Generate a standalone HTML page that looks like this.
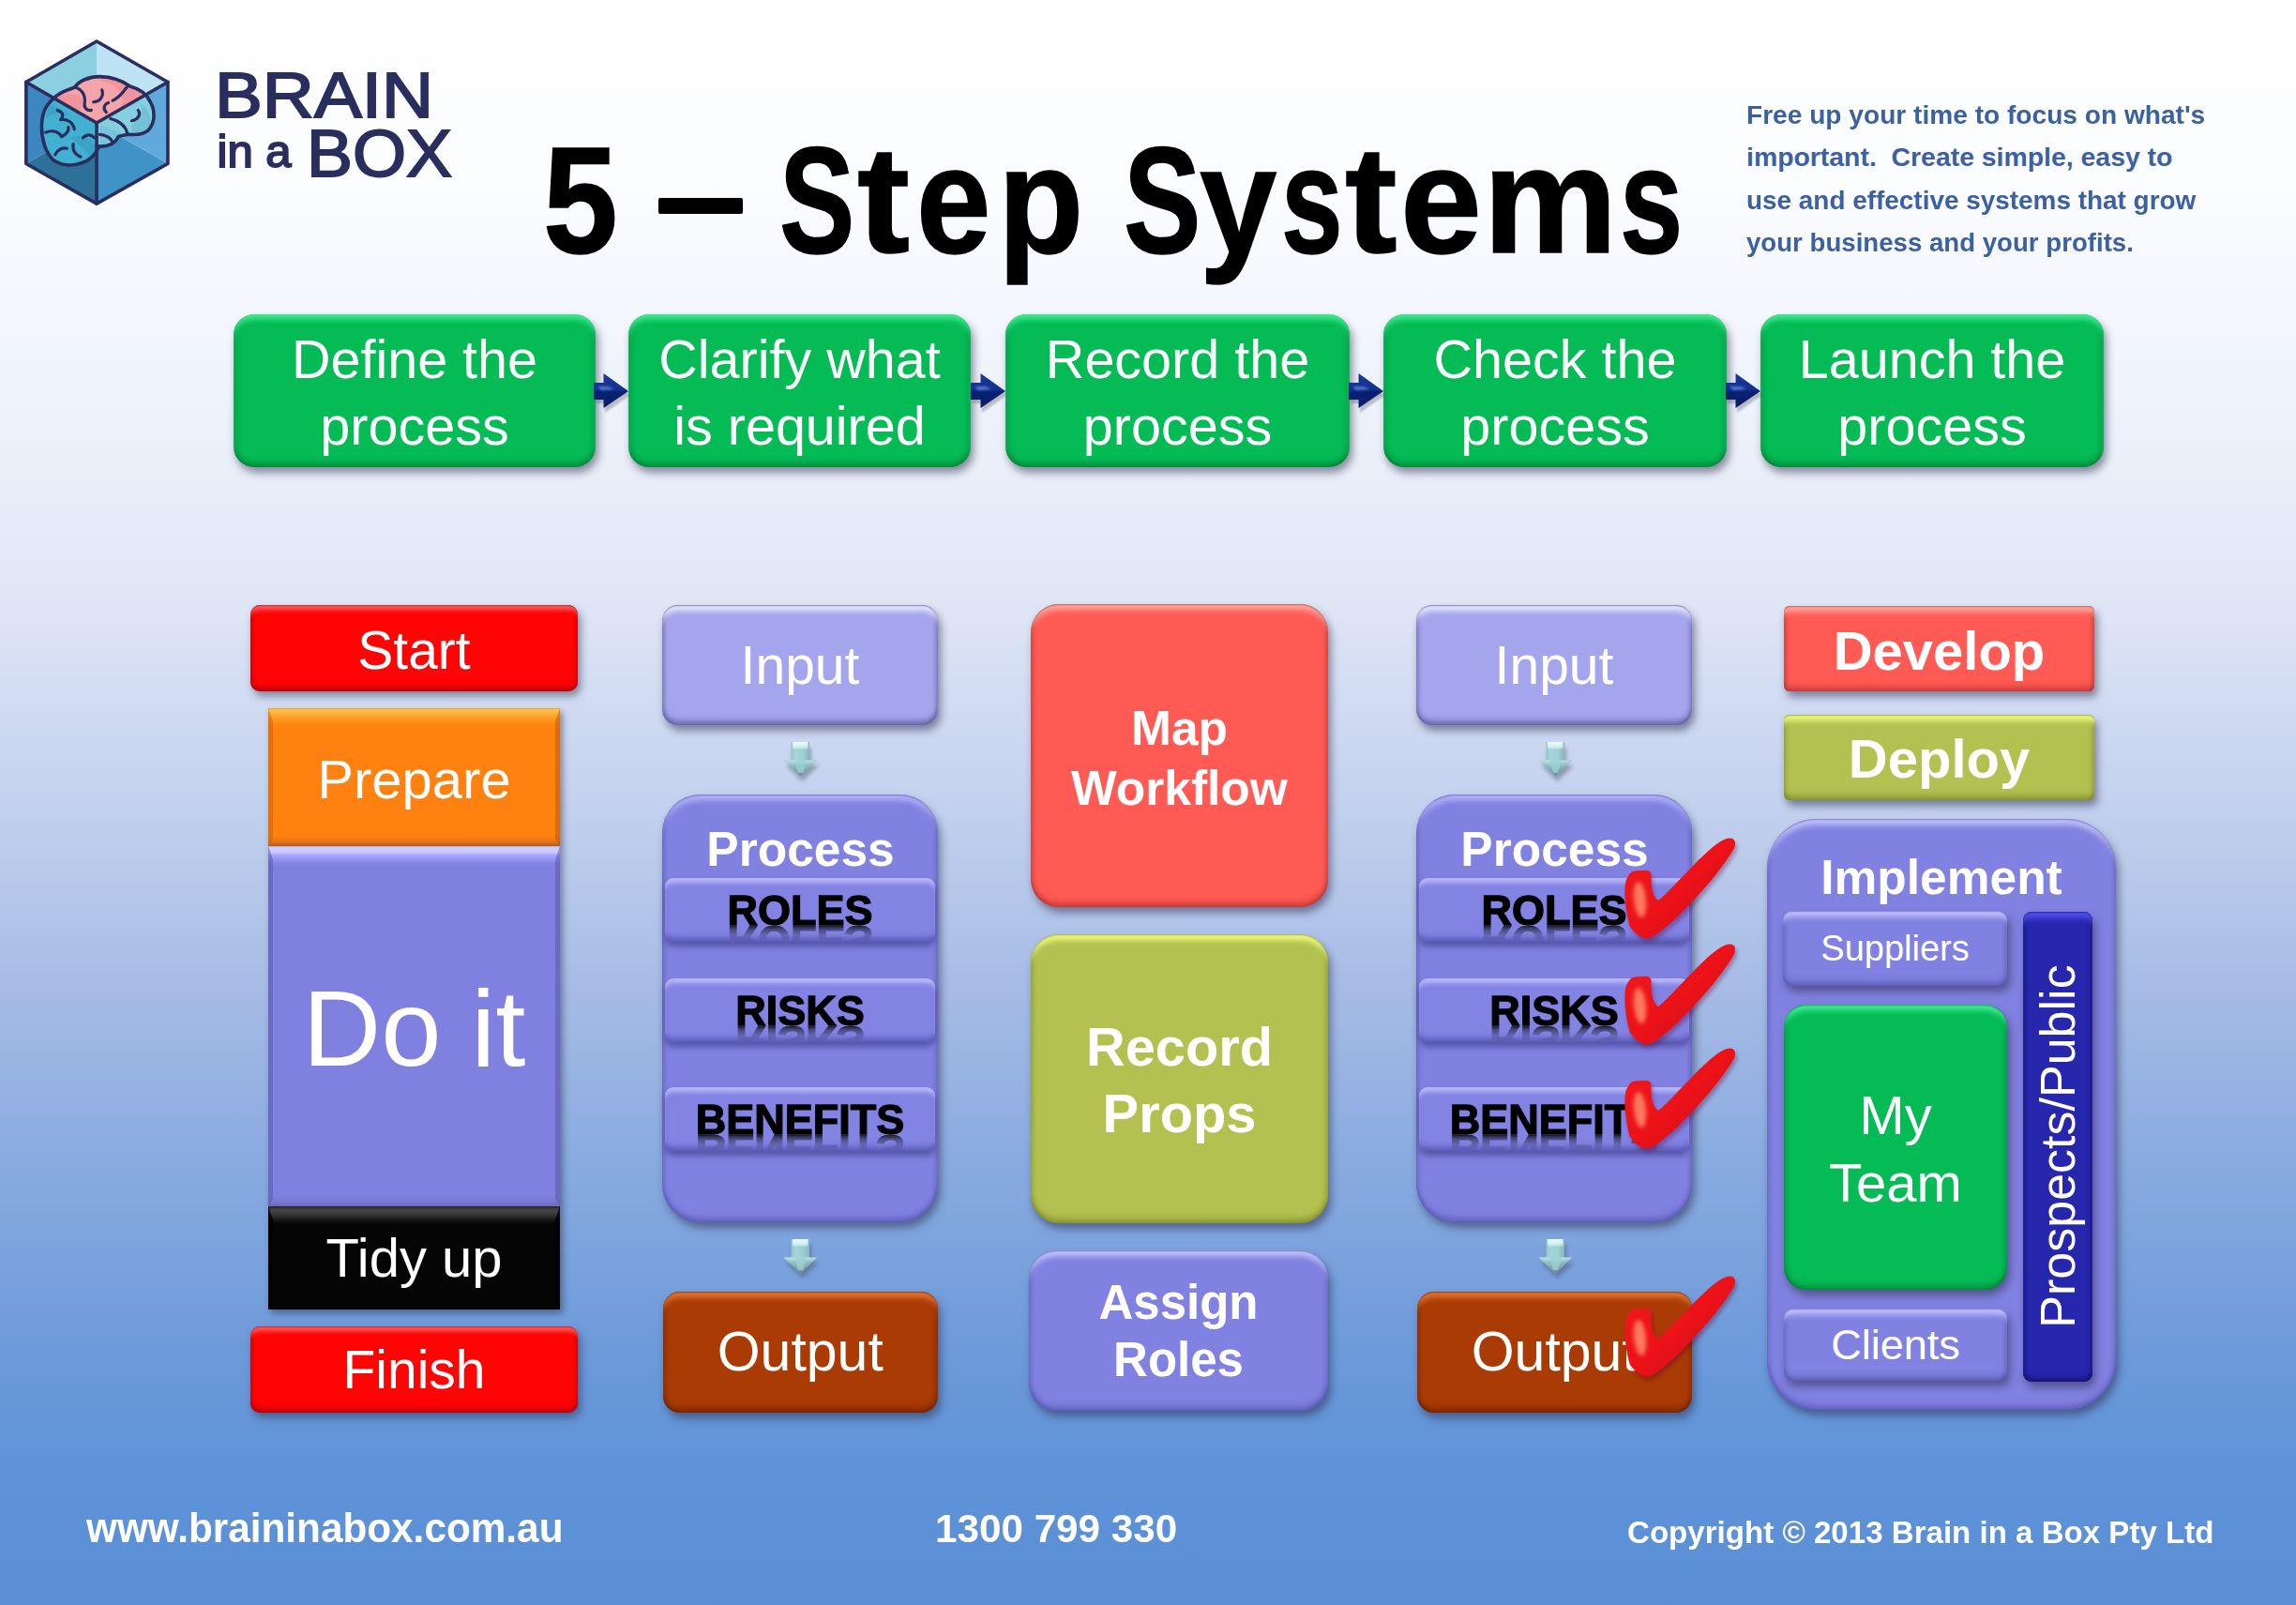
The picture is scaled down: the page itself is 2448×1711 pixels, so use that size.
<!DOCTYPE html>
<html>
<head>
<meta charset="utf-8">
<title>5 - Step Systems</title>
<style>
*{box-sizing:border-box;margin:0;padding:0}
html,body{width:2448px;height:1711px;overflow:hidden}
body{font-family:"Liberation Sans",sans-serif;position:relative;
background:linear-gradient(180deg,#ffffff 0px,#fbfcff 200px,#eff3fb 420px,#dfe6f6 640px,#c3d1ee 860px,#a5bbe5 1060px,#86a9df 1260px,#6d9ada 1440px,#5f93d8 1560px,#5a8fd6 1711px);}
.a{position:absolute}
.box{position:absolute;display:flex;align-items:center;justify-content:center;text-align:center;color:#fff;white-space:nowrap}
.sh{box-shadow:3px 5px 8px rgba(40,40,70,.45)}
/* green step boxes */
.g{background:#04bb55;border-radius:22px;font-size:57.5px;line-height:70.6px;
box-shadow:inset 0 7px 6px -2px rgba(90,255,170,.75),inset 0 -7px 7px -3px rgba(0,80,30,.45),inset 6px 0 6px -4px rgba(0,90,40,.35),inset -6px 0 6px -4px rgba(0,90,40,.35),3px 6px 9px rgba(40,40,70,.5)}

.g>div{padding-top:5px}
/* red pill (start/finish) */
.red{background:#fe0404;border-radius:10px;font-size:57px;
box-shadow:inset 0 2px 1.5px -1px rgba(170,0,30,.6),inset 0 9px 5px -4px rgba(255,110,110,.85),inset 0 -7px 6px -3px rgba(130,0,20,.55),inset 4px 0 4px -3px rgba(140,0,20,.5),inset -4px 0 4px -3px rgba(140,0,20,.5),3px 5px 8px rgba(40,40,70,.5)}
/* sharp bevel boxes in column 1 */
.sq{font-size:58px;box-shadow:3px 4px 7px rgba(30,30,60,.45)}
.sq:before{content:"";position:absolute;left:0;top:0;right:0;bottom:0;border-style:solid;border-width:14px 5px 8px 5px;border-color:transparent;pointer-events:none}
.or{background:linear-gradient(to bottom,#f0a040 0,#ffc244 2px,#ffb23a 6px,#ff9a26 11px,#ff8613 17px,#ff8110 22px,#ff8110 calc(100% - 13px),#f67b10 calc(100% - 8px),#e07218 calc(100% - 4px),#b06030 100%)}
.or:before{border-left-color:rgba(200,95,0,.5);border-right-color:rgba(185,85,0,.5)}
.pu{background:linear-gradient(to bottom,#b8b4f4 0,#d2cdff 2px,#cfcbff 6px,#a6a4fc 10px,#9695f2 14px,#8585e4 18px,#8080e0 22px,#8080e0 calc(100% - 12px),#7a7ad6 calc(100% - 6px),#6e6ec4 100%)}
.pu:before{border-left-color:rgba(85,90,170,.55);border-right-color:rgba(85,85,170,.5)}
.bk{background:linear-gradient(to bottom,#1a1a22 0,#3c3a3a 2px,#474545 5px,#2e3030 10px,#141414 15px,#050505 19px,#050505 100%)}
.bk:before{border-left-color:rgba(0,0,0,.8);border-right-color:rgba(0,0,0,.8)}
/* rounded bevel generic */
.rb{box-shadow:inset 0 2px 1.5px -1px var(--lo),inset 0 10px 6px -4px var(--hi),inset 0 -7px 7px -3px var(--lo),inset 5px 0 4px -3px var(--sd),inset -5px 0 4px -3px var(--sd),3px 6px 9px rgba(40,40,70,.5)}
.inp{background:#a4a5ec;border-radius:17px;font-size:57px;--hi:rgba(236,236,255,.97);--lo:rgba(55,55,120,.6);--sd:rgba(65,65,130,.45)}
.prc{background:#8181e1;border-radius:41px;--hi:rgba(185,185,255,.9);--lo:rgba(60,60,150,.5);--sd:rgba(70,70,160,.45)}
.bar{position:absolute;background:#8383e3;border-radius:9px;display:flex;align-items:center;justify-content:center;color:#000;font-weight:bold;font-size:45px;
box-shadow:inset 0 7px 5px -2px rgba(190,190,255,.9),inset 0 -7px 6px -3px rgba(60,60,150,.6),0 5px 6px rgba(50,50,120,.55)}
.out{background:#aa3b04;border-radius:18px;font-size:59px;--hi:rgba(240,130,60,.85);--lo:rgba(80,20,0,.55);--sd:rgba(90,25,0,.4)}
.cor{background:#ff5a54;--hi:rgba(255,178,168,.92);--lo:rgba(140,30,30,.5);--sd:rgba(150,40,40,.5)}
.olv{background:#b2c150;--hi:rgba(245,255,130,.95);--lo:rgba(90,100,20,.5);--sd:rgba(100,110,30,.4)}
.per{background:#8181e1;--hi:rgba(200,200,255,.95);--lo:rgba(60,60,150,.5);--sd:rgba(70,70,160,.45)}
.grn{background:#04bb55;--hi:rgba(90,255,170,.75);--lo:rgba(0,80,30,.45);--sd:rgba(0,90,40,.35)}
.nav{background:#2727ae;--hi:rgba(90,90,255,.9);--lo:rgba(10,10,80,.6);--sd:rgba(15,15,90,.5)}
.rf{display:inline-block;line-height:.693em;-webkit-text-stroke:1.3px #000;margin-top:2px;
-webkit-box-reflect:below -1px linear-gradient(to bottom,transparent 0%,transparent 45%,rgba(0,0,0,.18) 68%,rgba(0,0,0,.45) 88%,rgba(0,0,0,.8) 100%)}
.tl{top:133px;font-size:161px;color:#000;transform-origin:0 0;-webkit-text-stroke:1.5px #000}
.t.tg{left:1862px;font-size:28.4px;line-height:45.3px;color:#3c61a1;white-space:pre;transform-origin:0 0}
.b{font-weight:bold}
.t{position:absolute;white-space:nowrap;line-height:1}
</style>
</head>
<body>
<!-- shared svg defs -->
<svg width="0" height="0" style="position:absolute">
<defs>
<linearGradient id="ra" x1="0" y1="0" x2="0" y2="1"><stop offset="0" stop-color="#1b3a9a"/><stop offset=".45" stop-color="#143092"/><stop offset=".55" stop-color="#0a2070"/><stop offset="1" stop-color="#0a1c66"/></linearGradient>
<linearGradient id="da" x1="0" y1="0" x2="1" y2="0"><stop offset="0" stop-color="#7ba6b0"/><stop offset=".35" stop-color="#a4d5da"/><stop offset=".6" stop-color="#9dced4"/><stop offset="1" stop-color="#6a929e"/></linearGradient>
<linearGradient id="dah" x1="0" y1="0" x2="0" y2="1"><stop offset="0" stop-color="#f2ffff" stop-opacity=".95"/><stop offset=".35" stop-color="#e8ffff" stop-opacity=".7"/><stop offset=".6" stop-color="#fff" stop-opacity="0"/></linearGradient>
<linearGradient id="dad" x1="0" y1="0" x2="0" y2="1"><stop offset="0" stop-color="#c6ecee"/><stop offset=".3" stop-color="#93bec4"/><stop offset="1" stop-color="#587e88"/></linearGradient>
<linearGradient id="ck" x1="0" y1="0" x2="1" y2="1"><stop offset="0" stop-color="#f01a1a"/><stop offset=".5" stop-color="#ec1218"/><stop offset="1" stop-color="#c80e1c"/></linearGradient>
<filter id="bl" x="-50%" y="-50%" width="200%" height="200%"><feGaussianBlur stdDeviation="2.2"/></filter>
<filter id="bl1" x="-50%" y="-50%" width="200%" height="200%"><feGaussianBlur stdDeviation="1.2"/></filter>
<g id="rarrow">
<path d="M1 13 L11 13 L11 2 L38 20 L11 39 L11 29 L1 29 Z" fill="#556" opacity=".35" filter="url(#bl1)" transform="translate(1,3)"/>
<path d="M0 10 L10.5 10 L10.5 0 L37 19 L10.5 37 L10.5 28 L0 28 Z" fill="url(#ra)"/>
<path d="M4 14 L16 14 L22 17 L8 18 Z" fill="#5a8ad8" opacity=".8" filter="url(#bl1)"/>
</g>
<g id="darrow">
<path d="M8 2 L28 2 L28 21 L36 21 L18.5 38 L1 21 L8 21 Z" fill="#445" opacity=".4" filter="url(#bl)" transform="translate(2,4)"/>
<path d="M8.5 0 L28 0 L28 19.5 L36 19.5 L18.5 36.5 L0.5 19.5 L8.5 19.5 Z" fill="url(#da)"/>
<path d="M0.5 19.5 L36 19.5 L18.5 36.5 Z" fill="url(#dad)" opacity=".85"/>
<path d="M12 19 L25 19 L21 33 L16 33 Z" fill="#9ccfd4" opacity=".8"/>
<rect x="10" y="0" width="16.5" height="14" fill="url(#dah)"/>
</g>
<g id="check">
<path d="M6 44 C8 40 11 38.5 14 38.3 L25 37.8 Q30.5 38 30.5 43 C30 55 32 66 38 70 C55 56 80 25 100 10 C108 4 114 2 118 4.5 C121 7 120 11 119 14 C108 34 84 62 59 87 C48 97 36 108 28 110 C20 112 14 105 8 98 C4 85 2 68 2.5 59 C2.5 52 3.5 47 6 44 Z" fill="#503" opacity=".35" filter="url(#bl)" transform="translate(2,4)"/>
<path d="M6 44 C8 40 11 38.5 14 38.3 L25 37.8 Q30.5 38 30.5 43 C30 55 32 66 38 70 C55 56 80 25 100 10 C108 4 114 2 118 4.5 C121 7 120 11 119 14 C108 34 84 62 59 87 C48 97 36 108 28 110 C20 112 14 105 8 98 C4 85 2 68 2.5 59 C2.5 52 3.5 47 6 44 Z" fill="url(#ck)"/>
<ellipse cx="18.5" cy="69" rx="6.5" ry="19" fill="#ff8a6a" opacity=".85" filter="url(#bl)" transform="rotate(-6 18.5 69)"/>
</g>
</defs>
</svg>


<!-- top step boxes -->
<div class="box g" style="left:249px;top:335px;width:386px;height:163px"><div>Define the<br>process</div></div>
<div class="box g" style="left:670px;top:335px;width:365px;height:163px"><div>Clarify what<br>is required</div></div>
<div class="box g" style="left:1072px;top:335px;width:367px;height:163px"><div>Record the<br>process</div></div>
<div class="box g" style="left:1475px;top:335px;width:366px;height:163px"><div>Check the<br>process</div></div>
<div class="box g" style="left:1877px;top:335px;width:366px;height:163px"><div>Launch the<br>process</div></div>


<!-- column 1 -->
<div class="box red" style="left:267px;top:645px;width:349px;height:92px"><div style="padding-top:3px">Start</div></div>
<div class="box sq or" style="left:286px;top:755px;width:311px;height:146.5px"><div style="padding-top:4px">Prepare</div></div>
<div class="box sq pu" style="left:286px;top:901.5px;width:311px;height:384px;font-size:115.5px"><div style="padding-top:3px">Do it</div></div>
<div class="box sq bk" style="left:286px;top:1285.5px;width:311px;height:110.5px"><div>Tidy up</div></div>
<div class="box red" style="left:267px;top:1414px;width:349px;height:92px"><div style="padding-top:0px">Finish</div></div>

<!-- column 2 -->
<div class="box rb inp" style="left:706px;top:645px;width:294px;height:128px"><div>Input</div></div>
<div class="box rb prc" style="left:706px;top:847px;width:294px;height:456px"></div>
<div class="t b" style="left:707px;width:293px;top:880px;text-align:center;color:#fff;font-size:51.5px">Process</div>
<div class="bar" style="left:709px;top:936px;width:288px;height:68px"><span class="rf">ROLES</span></div>
<div class="bar" style="left:709px;top:1043px;width:288px;height:68px"><span class="rf">RISKS</span></div>
<div class="bar" style="left:709px;top:1159px;width:288px;height:68px"><span class="rf">BENEFITS</span></div>
<div class="box rb out" style="left:706.5px;top:1377px;width:293.5px;height:128.5px"><div style="padding-bottom:0px">Output</div></div>

<!-- column 3 -->
<div class="box rb cor b" style="left:1099px;top:644px;width:317px;height:323px;border-radius:30px;font-size:51.5px;line-height:63.5px"><div style="padding-top:6px">Map<br>Workflow</div></div>
<div class="box rb olv b" style="left:1099px;top:996px;width:317px;height:308px;border-radius:30px;font-size:57.8px;line-height:71px"><div style="padding-top:3px">Record<br>Props</div></div>
<div class="box rb per b" style="left:1097px;top:1333px;width:319px;height:171px;border-radius:30px;font-size:51px;line-height:61px"><div>Assign<br>Roles</div></div>

<!-- column 4 -->
<div class="box rb inp" style="left:1510px;top:645px;width:294px;height:128px"><div>Input</div></div>
<div class="box rb prc" style="left:1510px;top:847px;width:294px;height:456px"></div>
<div class="t b" style="left:1511px;width:293px;top:880px;text-align:center;color:#fff;font-size:51.5px">Process</div>
<div class="bar" style="left:1513px;top:936px;width:288px;height:68px"><span class="rf">ROLES</span></div>
<div class="bar" style="left:1513px;top:1043px;width:288px;height:68px"><span class="rf">RISKS</span></div>
<div class="bar" style="left:1513px;top:1159px;width:288px;height:68px"><span class="rf">BENEFITS</span></div>
<div class="box rb out" style="left:1510.5px;top:1377px;width:293.5px;height:128.5px"><div style="padding-bottom:0px">Output</div></div>

<!-- column 5 -->
<div class="box rb cor b" style="left:1902px;top:646px;width:331px;height:91px;border-radius:6px;font-size:58px"><div style="padding-top:3px">Develop</div></div>
<div class="box rb olv b" style="left:1902px;top:762px;width:331px;height:90.5px;border-radius:6px;font-size:58px"><div style="padding-top:2px">Deploy</div></div>
<div class="box rb per" style="left:1884px;top:873px;width:372px;height:630px;border-radius:53px"></div>
<div class="t b" style="left:1884px;width:372px;top:910px;text-align:center;color:#fff;font-size:51.5px">Implement</div>
<div class="box rb per" style="left:1901px;top:971px;width:239px;height:80px;border-radius:10px;font-size:38px"><div>Suppliers</div></div>
<div class="box rb grn" style="left:1902px;top:1071px;width:238px;height:304px;border-radius:24px;font-size:58px;line-height:72px"><div style="padding-top:3px">My<br>Team</div></div>
<div class="box rb per" style="left:1902px;top:1395px;width:238px;height:77px;border-radius:10px;font-size:45px"><div>Clients</div></div>
<div class="box rb nav" style="left:2157px;top:972px;width:74px;height:501px;border-radius:9px"></div>
<div class="t" style="left:2194px;top:1222px;color:#fff;font-size:52px;transform:translate(-50%,-50%) rotate(-90deg)">Prospects/Public</div>



<!-- logo -->
<svg class="a" style="left:0;top:0" width="520" height="260" viewBox="0 0 520 260">
<defs>
<clipPath id="brain"><path id="brainp" d="M250 378 C285 338 330 335 352 322 C372 292 420 272 470 272 C540 272 580 295 612 318 C650 328 690 352 708 392 C730 430 730 480 706 515 C690 540 650 548 612 544 C590 546 570 548 556 556 C545 585 505 605 466 600 C452 640 420 668 380 680 C340 694 290 692 250 664 C215 630 196 570 196 510 C196 450 215 405 250 378 Z"/></clipPath>
</defs>
<g transform="translate(0,20) scale(0.2265)">
<!-- faces -->
<polygon points="455,106 123,298 455,490" fill="#8ccfe1"/>
<polygon points="455,106 455,490 790,298" fill="#bde3f5"/>
<polygon points="123,298 455,490 123,682" fill="#3c87bf"/>
<polygon points="123,682 455,490 455,870" fill="#2d7198"/>
<polygon points="455,490 455,870 790,682" fill="#3f93c7"/>
<polygon points="455,490 790,682 790,298" fill="#5fa9dd"/>
<!-- brain -->
<g clip-path="url(#brain)">
<rect x="150" y="250" width="620" height="480" fill="#41b0d1"/>
<polygon points="123,298 455,106 790,298 455,490" fill="#f5a4aa"/>
<polygon points="455,490 790,298 790,682 455,870" fill="#86cfe1"/>
<!-- shading -->
<path d="M250 380 C300 350 360 345 385 375 C400 400 390 430 360 440 L250 380Z" fill="#ee8f98" opacity=".8"/>
<path d="M470 272 C540 272 590 300 640 330 L690 358 L560 430 C600 380 560 300 470 290Z" fill="#ee8f98" opacity=".7"/>
<path d="M230 400 C260 420 300 430 330 460 C300 440 250 440 215 470Z" fill="#369cc0" opacity=".7"/>
<path d="M330 560 C380 540 420 560 450 600 L440 660 C420 640 380 600 330 560Z" fill="#369cc0" opacity=".6"/>
<path d="M620 500 C660 480 680 440 660 400 C700 420 720 470 700 520 C670 545 640 545 620 540Z" fill="#6dbdd4" opacity=".8"/>
<path d="M470 500 L600 545 L556 556 L470 600Z" fill="#6dbdd4" opacity=".6"/>
</g>
<!-- sulci -->
<g fill="none" stroke="#2a2e5e" stroke-width="14" stroke-linecap="round" stroke-linejoin="round">
<path d="M352 322 C385 330 405 360 398 400 C396 420 410 435 430 430"/>
<path d="M480 335 C490 365 470 390 440 392"/>
<path d="M600 318 C580 345 560 375 530 385"/>
<path d="M500 440 C480 420 495 400 510 395"/>
<path d="M650 430 C665 450 650 475 620 480"/>
<path d="M520 470 C560 480 590 500 600 540"/>
<path d="M470 545 C500 548 520 560 530 580"/>
<path d="M270 430 C300 440 300 460 285 475 C320 470 345 490 350 520"/>
<path d="M215 535 C250 520 280 535 290 555 C310 545 325 530 322 510"/>
<path d="M390 560 C410 540 430 545 445 560"/>
<path d="M260 640 C270 615 295 605 315 610"/>
<path d="M345 590 C340 620 355 640 380 650"/>
</g>
<!-- box edges over brain -->
<g fill="none" stroke="#2a2e5e" stroke-width="16" stroke-linejoin="round" stroke-linecap="round">
<use href="#brainp"/>
<polyline points="123,298 455,490 790,298"/>
<line x1="455" y1="490" x2="455" y2="870"/>
<polygon points="455,106 790,298 790,682 455,870 123,682 123,298"/>
</g>
</g>
<!-- wordmark -->
<g fill="#2a2e5e" stroke="#2a2e5e" stroke-width="1.9" font-family="Liberation Sans, sans-serif">
<text id="lg1" x="229" y="124.6" font-size="68.2" textLength="233" lengthAdjust="spacingAndGlyphs">BRAIN</text>
<text id="lg2" x="231.5" y="177.8" font-size="48.5" textLength="79" lengthAdjust="spacingAndGlyphs">in a</text>
<text id="lg3" x="327" y="188" font-size="70" textLength="155" lengthAdjust="spacingAndGlyphs">BOX</text>
</g>
</svg>

<!-- title -->
<div class="t b tl" style="left:579.3px;transform:scaleX(0.891)">5</div>
<div class="t b tl" style="left:831.4px;transform:scaleX(0.747)">S</div>
<div class="t b tl" style="left:914.2px;transform:scaleX(1.045)">t</div>
<div class="t b tl" style="left:977.0px;transform:scaleX(0.887)">e</div>
<div class="t b tl" style="left:1064.4px;transform:scaleX(0.929)">p</div>
<div class="t b tl" style="left:1197.8px;transform:scaleX(0.768)">S</div>
<div class="t b tl" style="left:1279.4px;transform:scaleX(0.919)">y</div>
<div class="t b tl" style="left:1365.8px;transform:scaleX(0.733)">s</div>
<div class="t b tl" style="left:1434.1px;transform:scaleX(1.037)">t</div>
<div class="t b tl" style="left:1493.4px;transform:scaleX(0.97)">e</div>
<div class="t b tl" style="left:1581.2px;transform:scaleX(1.0)">m</div>
<div class="t b tl" style="left:1726.7px;transform:scaleX(0.751)">s</div>

<div class="a" id="tdash" style="left:702px;top:211px;width:90px;height:17px;background:#000;border-radius:2px"></div>

<!-- tagline -->
<div class="t b tg" style="top:100.0px;transform:scaleX(0.99)">Free up your time to focus on what's</div>
<div class="t b tg" style="top:145.3px;transform:scaleX(1.0)">important.  Create simple, easy to</div>
<div class="t b tg" style="top:190.6px;transform:scaleX(0.983)">use and effective systems that grow</div>
<div class="t b tg" style="top:235.9px;transform:scaleX(0.973)">your business and your profits.</div>


<!-- footer -->
<div class="t b" id="f1" style="left:92px;top:1605.5px;font-size:45px;color:#fff;transform-origin:0 0;transform:scaleX(.94)">www.braininabox.com.au</div>
<div class="t b" id="f2" style="left:997px;top:1607.5px;font-size:43.3px;color:#fff;transform-origin:0 0;transform:scaleX(.975)">1300 799 330</div>
<div class="t b" id="f3" style="left:1735px;top:1616px;font-size:34px;color:#fff;transform-origin:0 0;transform:scaleX(.973)">Copyright © 2013 Brain in a Box Pty Ltd</div>


<!-- right arrows -->
<svg class="a" style="left:633px;top:398px" width="44" height="46"><use href="#rarrow"/></svg>
<svg class="a" style="left:1035px;top:398px" width="44" height="46"><use href="#rarrow"/></svg>
<svg class="a" style="left:1438px;top:398px" width="44" height="46"><use href="#rarrow"/></svg>
<svg class="a" style="left:1840px;top:398px" width="44" height="46"><use href="#rarrow"/></svg>
<!-- down arrows -->
<svg class="a" style="left:835px;top:791px" width="46" height="50"><use href="#darrow"/></svg>
<svg class="a" style="left:835px;top:1321px" width="46" height="50"><use href="#darrow"/></svg>
<svg class="a" style="left:1640px;top:791px" width="46" height="50"><use href="#darrow"/></svg>
<svg class="a" style="left:1640px;top:1321px" width="46" height="50"><use href="#darrow"/></svg>
<!-- check marks -->
<svg class="a" style="left:1730px;top:890px" width="130" height="124"><use href="#check"/></svg>
<svg class="a" style="left:1730px;top:1003px" width="130" height="124"><use href="#check"/></svg>
<svg class="a" style="left:1730px;top:1114px" width="130" height="124"><use href="#check"/></svg>
<svg class="a" style="left:1730px;top:1357px" width="130" height="124"><use href="#check"/></svg>

</body>
</html>
